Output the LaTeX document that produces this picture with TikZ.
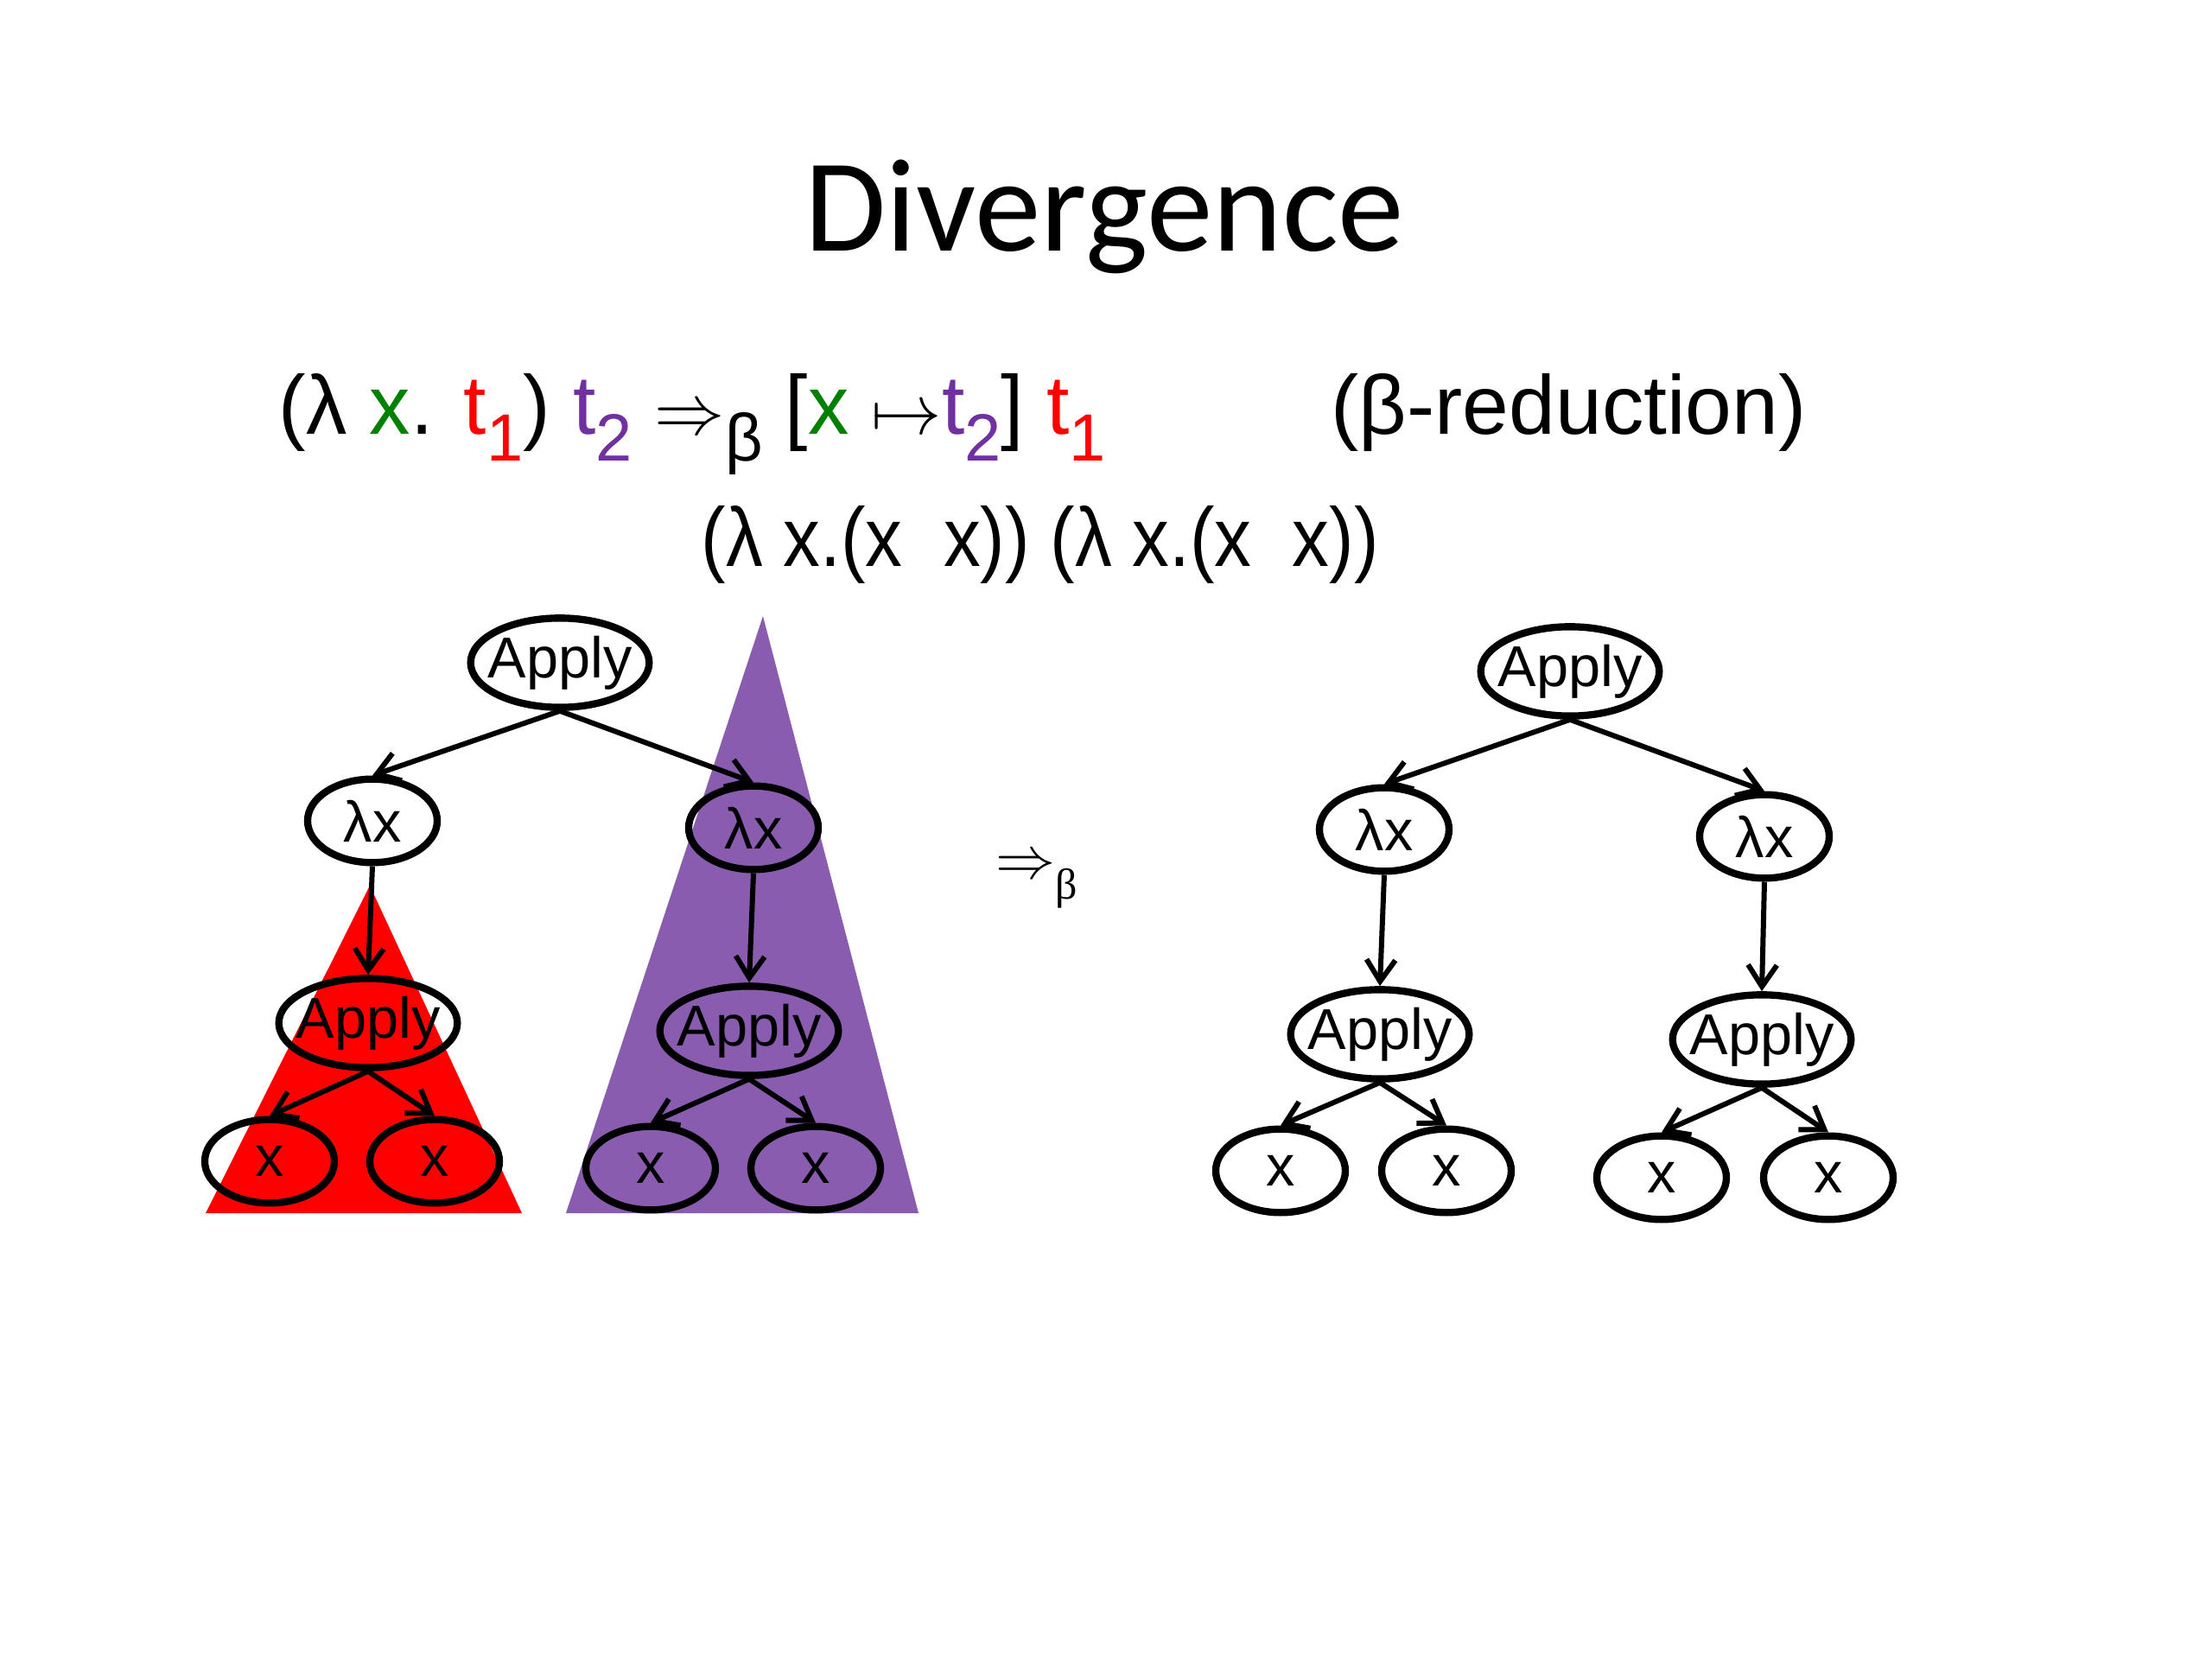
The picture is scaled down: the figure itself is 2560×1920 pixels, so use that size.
\documentclass[tikz,border=0pt]{standalone}
\usepackage{fontspec}
\usepackage{graphicx}
\setmainfont{Liberation Sans}
\newfontfamily\titlefont{Carlito}
\newfontfamily\seriffont{Liberation Serif}
\usetikzlibrary{shapes.geometric,arrows.meta}
\definecolor{tgreen}{RGB}{0,128,0}
\definecolor{tred}{RGB}{255,0,0}
\definecolor{tpurple}{RGB}{112,48,160}
\definecolor{fpurple}{RGB}{137,92,176}
\newcommand\subs[1]{\raisebox{-0.32em}{\scalebox{0.8}{#1}}}
\begin{document}
\begin{tikzpicture}[x=0.3pt,y=-0.3pt,
  tnode/.style={ellipse,draw,line width=2.5pt,inner xsep=-6pt,inner ysep=-4pt,font=\fontsize{20}{24}\selectfont},
  applyn/.style={tnode,minimum width=62pt,minimum height=31pt},
  lamn/.style={tnode,minimum width=45pt,minimum height=29pt},
  varn/.style={tnode,minimum width=45pt,minimum height=29pt},
  edge/.style={line width=1.8pt,-{Straight Barb[length=7.5pt,width=10pt,line width=1.8pt]}},
  bigtext/.style={anchor=base west,inner sep=0pt,font=\fontsize{29}{35}\selectfont}
]
\useasboundingbox (0,0) rectangle (2560,1920);
\fill[white] (0,0) rectangle (2560,1920);

% subtree triangles
\fill[tred] (428,1025) -- (604,1404) -- (238,1404) -- cycle;
\fill[fpurple] (883,713) -- (1063,1404) -- (655,1404) -- cycle;

% texts
\node[anchor=base,inner sep=0pt,font=\titlefont\fontsize{46}{55}\selectfont] (title) at (1278,291) {Divergence};
\node[bigtext] (rule) at (322,503) {\scalebox{0.98}[1]{(λ \textcolor{tgreen}{x}. \textcolor{tred}{t\subs{1}}) \textcolor{tpurple}{t\subs{2}} $\Rightarrow$\subs{β} [\textcolor{tgreen}{x} $\mapsto$\textcolor{tpurple}{t\subs{2}}] \textcolor{tred}{t\subs{1}}}};
\node[bigtext] (rname) at (1540,503) {(β-reduction)};
\node[bigtext] (example) at (811,656) {\scalebox{0.885}[1]{(λ x.(x\ \ x)) (λ x.(x\ \ x))}};
\node[font=\fontsize{20}{24}\selectfont] (betastep) at (1200,1021) {$\Rightarrow$\raisebox{-0.35em}{\seriffont\fontsize{15}{18}\selectfont β}};

% left tree
\node[applyn] (A0) at (648,767) {Apply};
\node[lamn] (L1) at (431,950) {λx};
\node[lamn] (L2) at (872,958) {λx};
\node[applyn] (A1) at (426,1184) {Apply};
\node[applyn] (A2) at (867,1193) {Apply};
\node[varn] (X1) at (312,1344) {x};
\node[varn] (X2) at (503,1344) {x};
\node[varn] (X3) at (753,1352) {x};
\node[varn] (X4) at (944,1352) {x};
\draw[edge] (A0.south) -- (L1.north);
\draw[edge] (A0.south) -- (L2.north);
\draw[edge] (L1.south) -- (A1.north);
\draw[edge] (L2.south) -- (A2.north);
\draw[edge] (A1.south) -- (X1.north);
\draw[edge] (A1.south) -- (X2.north);
\draw[edge] (A2.south) -- (X3.north);
\draw[edge] (A2.south) -- (X4.north);

% right tree
\node[applyn] (B0) at (1817,777) {Apply};
\node[lamn] (M1) at (1602,960) {λx};
\node[lamn] (M2) at (2042,968) {λx};
\node[applyn] (B1) at (1597,1197) {Apply};
\node[applyn] (B2) at (2039,1203) {Apply};
\node[varn] (Y1) at (1482,1355) {x};
\node[varn] (Y2) at (1674,1355) {x};
\node[varn] (Y3) at (1923,1363) {x};
\node[varn] (Y4) at (2116,1363) {x};
\draw[edge] (B0.south) -- (M1.north);
\draw[edge] (B0.south) -- (M2.north);
\draw[edge] (M1.south) -- (B1.north);
\draw[edge] (M2.south) -- (B2.north);
\draw[edge] (B1.south) -- (Y1.north);
\draw[edge] (B1.south) -- (Y2.north);
\draw[edge] (B2.south) -- (Y3.north);
\draw[edge] (B2.south) -- (Y4.north);
\end{tikzpicture}
\end{document}
